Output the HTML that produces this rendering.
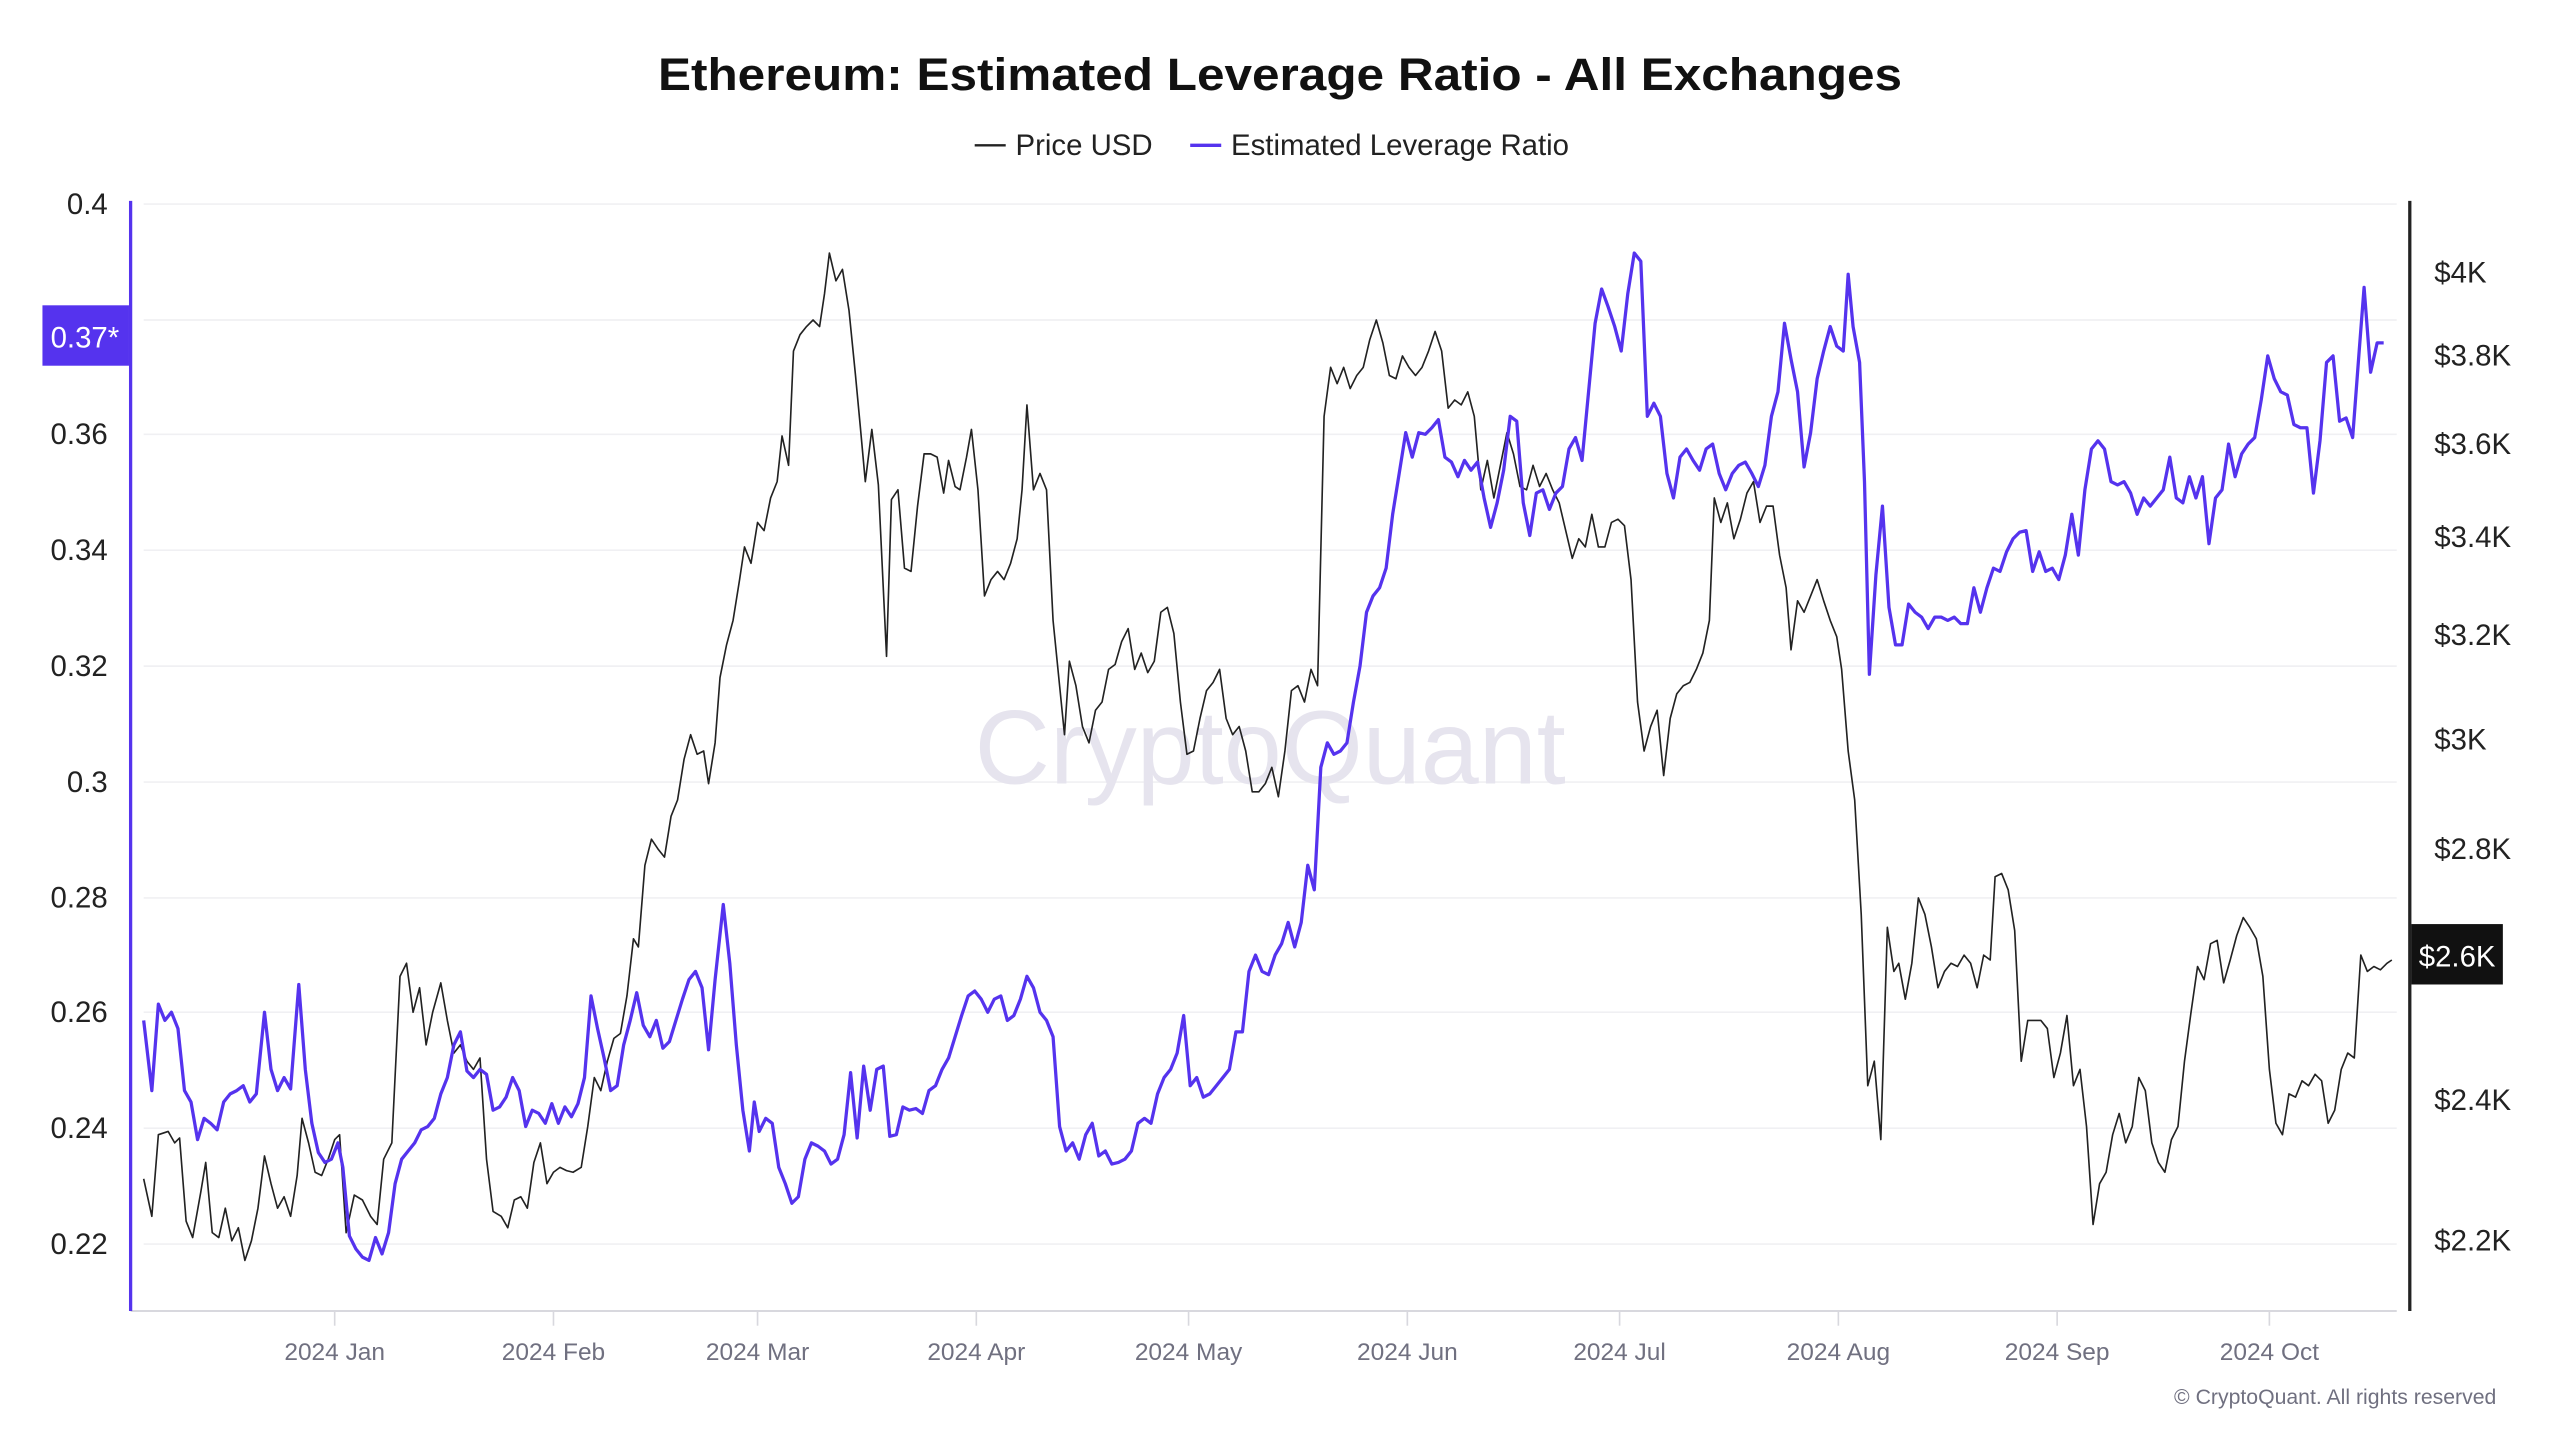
<!DOCTYPE html>
<html><head><meta charset="utf-8"><style>
html,body{margin:0;padding:0;background:#fff;}
svg{display:block;}
text{font-family:"Liberation Sans",sans-serif;}
</style></head><body>
<svg width="2560" height="1440" viewBox="0 0 1568 882" preserveAspectRatio="none" xmlns="http://www.w3.org/2000/svg">
<rect width="1568" height="882" fill="#fff"/>
<text x="784" y="55" text-anchor="middle" font-size="28" font-weight="bold" fill="#111" textLength="762" lengthAdjust="spacingAndGlyphs">Ethereum: Estimated Leverage Ratio - All Exchanges</text>
<line x1="597" y1="89" x2="616" y2="89" stroke="#222" stroke-width="1.5"/>
<text x="622" y="95" font-size="18" fill="#222">Price USD</text>
<line x1="729" y1="89" x2="748" y2="89" stroke="#5533ee" stroke-width="2"/>
<text x="754" y="95" font-size="18" fill="#222">Estimated Leverage Ratio</text>
<g stroke="#f0f0f3" stroke-width="1">
<line x1="88" y1="125" x2="1468" y2="125"/><line x1="88" y1="196" x2="1468" y2="196"/><line x1="88" y1="266" x2="1468" y2="266"/><line x1="88" y1="337" x2="1468" y2="337"/><line x1="88" y1="408" x2="1468" y2="408"/><line x1="88" y1="479" x2="1468" y2="479"/><line x1="88" y1="550" x2="1468" y2="550"/><line x1="88" y1="620" x2="1468" y2="620"/><line x1="88" y1="691" x2="1468" y2="691"/><line x1="88" y1="762" x2="1468" y2="762"/>
</g>
<text x="597" y="480" font-size="64" fill="#e6e4ee" textLength="362" lengthAdjust="spacingAndGlyphs">CryptoQuant</text>
<line x1="80" y1="803" x2="1468" y2="803" stroke="#d8d8de" stroke-width="1.2"/>
<g stroke="#d8d8de" stroke-width="1"><line x1="205" y1="803" x2="205" y2="812"/><line x1="339" y1="803" x2="339" y2="812"/><line x1="464" y1="803" x2="464" y2="812"/><line x1="598" y1="803" x2="598" y2="812"/><line x1="728" y1="803" x2="728" y2="812"/><line x1="862" y1="803" x2="862" y2="812"/><line x1="992" y1="803" x2="992" y2="812"/><line x1="1126" y1="803" x2="1126" y2="812"/><line x1="1260" y1="803" x2="1260" y2="812"/><line x1="1390" y1="803" x2="1390" y2="812"/></g>
<g font-size="15" fill="#707080" text-anchor="middle">
<text x="205" y="833">2024 Jan</text><text x="339" y="833">2024 Feb</text><text x="464" y="833">2024 Mar</text><text x="598" y="833">2024 Apr</text><text x="728" y="833">2024 May</text><text x="862" y="833">2024 Jun</text><text x="992" y="833">2024 Jul</text><text x="1126" y="833">2024 Aug</text><text x="1260" y="833">2024 Sep</text><text x="1390" y="833">2024 Oct</text>
</g>
<text x="1529" y="860" text-anchor="end" font-size="13" fill="#707080">© CryptoQuant. All rights reserved</text>
<line x1="80" y1="123" x2="80" y2="803" stroke="#5533ee" stroke-width="2"/>
<line x1="1476" y1="123" x2="1476" y2="803" stroke="#222" stroke-width="2"/>
<g font-size="18" fill="#222" text-anchor="end">
<text x="66" y="131">0.4</text><text x="66" y="272">0.36</text><text x="66" y="343">0.34</text><text x="66" y="414">0.32</text><text x="66" y="485">0.3</text><text x="66" y="556">0.28</text><text x="66" y="626">0.26</text><text x="66" y="697">0.24</text><text x="66" y="768">0.22</text>
</g>
<g font-size="18" fill="#222">
<text x="1491" y="173">$4K</text><text x="1491" y="224">$3.8K</text><text x="1491" y="278">$3.6K</text><text x="1491" y="335">$3.4K</text><text x="1491" y="395">$3.2K</text><text x="1491" y="459">$3K</text><text x="1491" y="526">$2.8K</text><text x="1491" y="680">$2.4K</text><text x="1491" y="766">$2.2K</text>
</g>
<polyline fill="none" stroke="#222" stroke-width="1" stroke-linejoin="round" points="88,722 93,745 97,695 103,693 107,700 110,697 114,748 118,758 123,730 126,712 130,755 134,758 138,740 142,760 146,752 150,772 154,760 158,740 162,708 166,725 170,740 174,733 178,745 182,720 185,685 189,700 193,718 197,720 201,710 205,698 208,695 212,755 217,732 222,735 227,745 231,750 235,710 240,700 245,598 249,590 253,620 257,605 261,640 265,620 270,602 274,625 278,645 282,640 286,650 290,655 294,648 298,710 302,742 307,745 311,752 315,735 319,733 323,740 327,712 331,700 335,725 339,718 343,715 347,717 351,718 356,715 360,690 364,660 368,668 372,650 376,636 380,633 384,610 388,575 391,580 395,530 399,514 403,520 407,525 411,500 415,490 419,465 423,450 427,462 431,460 434,480 438,455 441,415 445,395 449,380 453,355 456,335 460,345 464,320 468,325 472,305 476,295 479,267 483,285 486,215 490,205 494,200 498,196 502,200 505,180 508,155 512,172 516,165 520,190 524,230 527,262 530,295 534,263 538,297 543,402 546,306 550,300 554,348 558,350 562,310 566,278 570,278 574,280 578,302 581,282 585,298 588,300 592,280 595,263 599,300 603,365 607,355 611,350 615,355 619,345 623,330 626,300 629,248 633,300 637,290 641,300 645,380 649,420 652,450 655,405 659,420 663,445 667,455 671,435 675,430 679,410 683,407 687,393 691,385 695,410 699,400 703,412 707,405 711,375 715,372 719,388 723,430 727,462 731,460 735,440 739,423 743,418 747,410 751,440 755,450 759,445 763,460 767,485 771,485 775,480 779,470 783,488 787,460 791,423 795,420 799,430 803,410 807,420 811,255 815,225 819,235 823,225 827,238 831,230 835,225 839,208 843,196 847,210 851,230 855,232 859,218 863,225 867,230 871,225 875,215 879,203 883,215 887,250 891,245 895,248 899,240 903,255 907,300 911,282 915,305 919,285 923,265 927,278 931,298 935,300 939,285 943,298 947,290 951,300 955,308 959,325 963,342 967,330 971,335 975,315 979,335 983,335 987,320 991,318 995,322 999,355 1003,430 1007,460 1011,445 1015,435 1019,475 1023,440 1027,425 1031,420 1035,418 1039,410 1043,400 1047,380 1050,305 1054,320 1058,308 1062,330 1066,318 1070,302 1074,295 1078,320 1082,310 1086,310 1090,340 1094,360 1097,398 1101,368 1105,375 1109,365 1113,355 1117,368 1121,380 1125,390 1128,410 1132,460 1136,490 1140,560 1144,665 1148,650 1152,698 1156,568 1160,595 1163,590 1167,612 1171,590 1175,550 1179,560 1183,580 1187,605 1191,595 1195,590 1199,592 1203,585 1207,590 1211,605 1215,585 1219,588 1222,537 1226,535 1230,545 1234,570 1238,650 1242,625 1246,625 1250,625 1254,630 1258,660 1262,645 1266,622 1270,665 1274,655 1278,690 1282,750 1286,725 1290,718 1294,695 1298,682 1302,700 1306,690 1310,660 1314,668 1318,700 1322,712 1326,718 1330,698 1334,690 1338,650 1342,620 1346,592 1350,600 1354,578 1358,576 1362,602 1366,588 1370,573 1374,562 1378,568 1382,575 1386,598 1390,655 1394,688 1398,695 1402,670 1406,672 1410,662 1414,665 1418,658 1422,662 1426,688 1430,680 1434,655 1438,645 1442,648 1446,585 1450,595 1454,592 1458,594 1462,590 1465,588"/>
<polyline fill="none" stroke="#5533ee" stroke-width="2" stroke-linejoin="round" points="88,625 93,668 97,615 101,625 105,620 109,630 113,668 117,675 121,698 125,685 129,688 133,692 137,675 141,670 145,668 149,665 153,675 157,670 162,620 166,655 170,668 174,660 178,667 183,603 187,655 191,688 195,706 199,712 203,710 207,700 210,715 214,757 218,765 222,770 226,772 230,758 234,768 238,755 242,725 246,710 250,705 254,700 258,692 262,690 266,685 270,670 274,660 278,640 282,632 286,656 290,660 294,655 298,658 302,680 306,678 310,672 314,660 318,668 322,690 326,680 330,682 334,688 338,676 342,688 346,678 350,684 354,676 358,660 362,610 366,630 370,648 374,668 378,665 382,640 386,625 390,608 394,628 398,635 402,625 406,642 410,638 414,625 418,612 422,600 426,595 430,605 434,643 438,600 443,554 447,590 451,640 455,680 459,705 462,675 465,693 469,685 473,688 477,715 481,725 485,737 489,733 493,710 497,700 501,702 505,705 509,713 513,710 517,695 521,657 525,697 529,653 533,680 537,655 541,653 545,696 549,695 553,678 557,680 561,679 565,682 569,668 573,665 577,655 581,648 585,635 589,622 593,610 597,607 601,612 605,620 609,612 613,610 617,625 621,622 625,612 629,598 633,605 637,620 641,625 645,635 649,690 653,705 657,700 661,710 665,695 669,688 673,708 677,705 681,713 685,712 689,710 693,705 697,688 701,685 705,688 709,670 713,660 717,655 721,645 725,622 729,665 733,660 737,672 741,670 745,665 749,660 753,655 757,632 761,632 765,595 769,585 773,595 777,597 781,585 785,578 789,565 793,580 797,565 801,530 805,545 809,470 813,455 817,462 821,460 825,455 829,430 833,408 837,375 841,365 845,360 849,348 853,315 857,290 861,265 865,280 869,265 873,266 877,262 881,257 885,280 889,283 893,292 897,282 901,288 905,283 909,305 913,323 917,308 921,288 925,255 929,258 933,308 937,328 941,302 945,300 949,312 953,302 957,298 961,275 965,268 969,282 973,240 977,198 981,177 985,188 989,200 993,215 997,180 1001,155 1005,160 1009,255 1013,247 1017,255 1021,290 1025,305 1029,280 1033,275 1037,282 1041,288 1045,275 1049,272 1053,290 1057,300 1061,290 1065,285 1069,283 1073,290 1077,298 1081,285 1085,255 1089,240 1093,198 1097,220 1101,240 1105,286 1109,265 1113,232 1117,215 1121,200 1125,212 1129,215 1132,168 1135,200 1139,222 1142,295 1145,413 1149,352 1153,310 1157,372 1161,395 1165,395 1169,370 1173,375 1177,378 1181,385 1185,378 1189,378 1193,380 1197,378 1201,382 1205,382 1209,360 1213,375 1217,360 1221,348 1225,350 1229,338 1233,330 1237,326 1241,325 1245,350 1249,338 1253,350 1257,348 1261,355 1265,340 1269,315 1273,340 1277,300 1281,275 1285,270 1289,275 1293,295 1297,297 1301,295 1305,302 1309,315 1313,305 1317,310 1321,305 1325,300 1329,280 1333,305 1337,308 1341,292 1345,305 1349,292 1353,333 1357,305 1361,300 1365,272 1369,292 1373,278 1377,272 1381,268 1385,245 1389,218 1393,232 1397,240 1401,242 1405,260 1409,262 1413,262 1417,302 1421,270 1425,222 1429,218 1433,258 1437,256 1441,268 1445,215 1448,176 1452,228 1456,210 1460,210"/>
<rect x="26" y="187" width="53" height="37" fill="#5533ee"/>
<text x="52" y="213" text-anchor="middle" font-size="18" fill="#fff">0.37*</text>
<rect x="1477" y="566" width="56" height="37" fill="#111"/>
<text x="1505" y="592" text-anchor="middle" font-size="18" fill="#fff">$2.6K</text>
</svg>
</body></html>
